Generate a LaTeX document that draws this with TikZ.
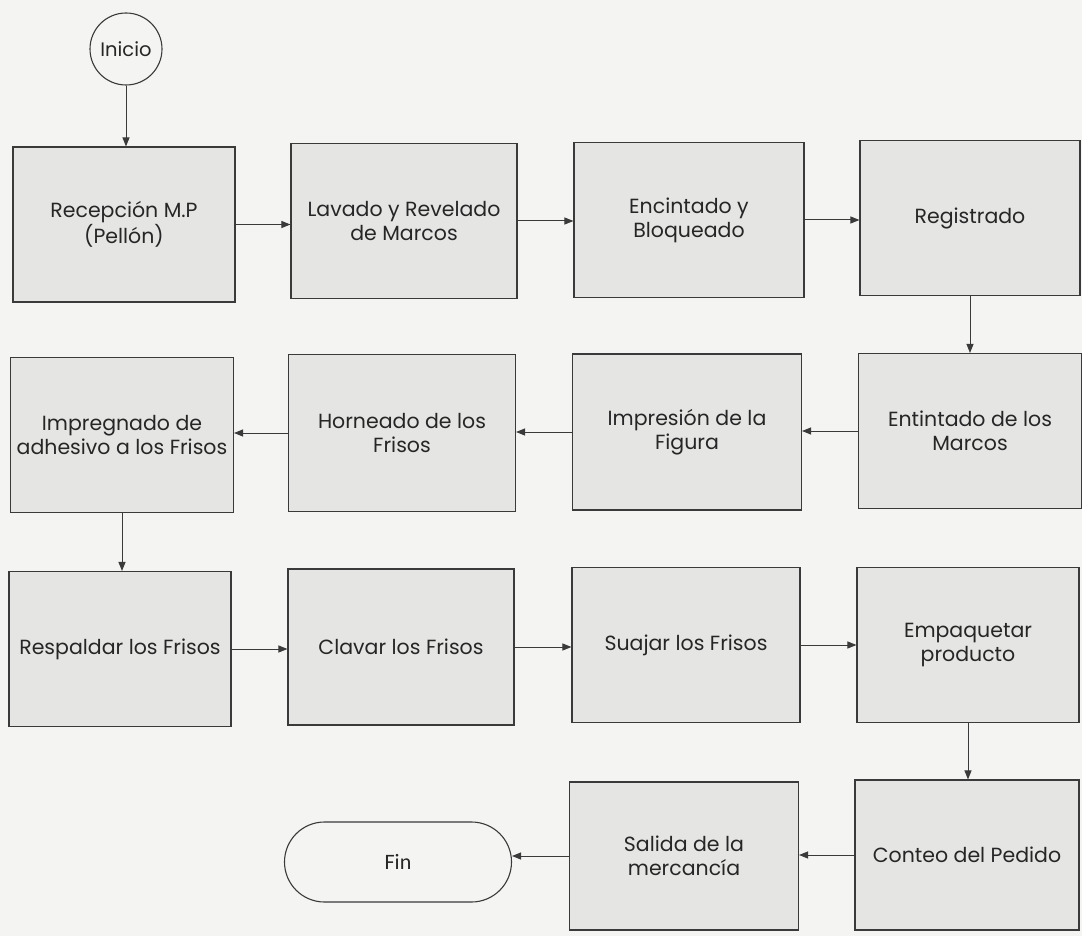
\documentclass[tikz,border=0pt]{standalone}
\usepackage{fontspec}
\setmainfont{Poppins}
\newfontfamily\finfont{Carlito}
\usetikzlibrary{arrows.meta,shapes.misc}
\definecolor{bgc}{HTML}{F4F4F2}
\definecolor{boxc}{HTML}{E5E5E4}
\definecolor{linec}{HTML}{3A3A3A}
\definecolor{txtc}{HTML}{262626}
\tikzset{
  procbox/.style={draw=linec, line width=1.1pt, fill=boxc, rectangle, align=center,
    text=txtc, font=\fontsize{20.5}{24}\selectfont, inner sep=0pt},
  arr/.style={draw=linec, line width=1pt, -{Triangle[length=9pt,width=7pt]}},
}
\begin{document}
\begin{tikzpicture}[x=1pt,y=-1pt]
\fill[bgc] (0,0) rectangle (1082,936);
\useasboundingbox (0,0) rectangle (1082,936);

\node[circle, draw=linec, line width=1.1pt, fill=bgc, minimum size=72pt, inner sep=0pt,
  text=txtc, font=\fontsize{19.5}{22}\selectfont] (ini) at (126,49) {Inicio};

\node[procbox, minimum width=222pt, minimum height=155pt] (b1) at (124,224.5) {Recepción M.P\\(Pellón)};
\node[procbox, minimum width=226pt, minimum height=155pt] (b2) at (404,221) {Lavado y Revelado\\de Marcos};
\node[procbox, minimum width=230pt, minimum height=155pt] (b3) at (689,220) {Encintado y\\Bloqueado};
\node[procbox, minimum width=220pt, minimum height=155pt] (b4) at (970,218) {Registrado};

\node[procbox, minimum width=223pt, minimum height=155pt] (b5) at (970,431) {Entintado de los\\Marcos};
\node[procbox, minimum width=229pt, minimum height=156pt] (b6) at (687,432) {Impresión de la\\Figura};
\node[procbox, minimum width=227pt, minimum height=157pt] (b7) at (402,433) {Horneado de los\\Frisos};
\node[procbox, minimum width=223pt, minimum height=155pt] (b8) at (122,435) {Impregnado de\\adhesivo a los Frisos};

\node[procbox, minimum width=222pt, minimum height=155pt] (b9) at (120,649) {Respaldar los Frisos};
\node[procbox, minimum width=226pt, minimum height=156pt] (b10) at (401,647) {Clavar los Frisos};
\node[procbox, minimum width=228pt, minimum height=155pt] (b11) at (686,645) {Suajar los Frisos};
\node[procbox, minimum width=222pt, minimum height=155pt] (b12) at (968,645) {Empaquetar\\producto};

\node[procbox, minimum width=224pt, minimum height=150pt] (b13) at (967,855) {Conteo del Pedido};
\node[procbox, minimum width=229pt, minimum height=148pt] (b14) at (684,856) {Salida de la\\mercancía};
\node[rounded rectangle, draw=linec, line width=1.1pt, fill=bgc, minimum width=227pt,
  minimum height=80pt, inner sep=0pt, text=txtc, font=\finfont\fontsize{22}{24}\selectfont] (fin) at (398,862) {Fin};

\draw[arr] (ini.south) -- (ini.south |- b1.north);
\draw[arr] (b1.east) -- (b1.east -| b2.west);
\draw[arr] (b2.east) -- (b2.east -| b3.west);
\draw[arr] (b3.east) -- (b3.east -| b4.west);
\draw[arr] (b4.south) -- (b4.south |- b5.north);
\draw[arr] (b5.west) -- (b5.west -| b6.east);
\draw[arr] (b6.west) -- (b6.west -| b7.east);
\draw[arr] (b7.west) -- (b7.west -| b8.east);
\draw[arr] (b8.south) -- (b8.south |- b9.north);
\draw[arr] (b9.east) -- (b9.east -| b10.west);
\draw[arr] (b10.east) -- (b10.east -| b11.west);
\draw[arr] (b11.east) -- (b11.east -| b12.west);
\draw[arr] (b12.south) -- (b12.south |- b13.north);
\draw[arr] (b13.west) -- (b13.west -| b14.east);
\draw[arr] (b14.west) -- (b14.west -| fin.east);
\end{tikzpicture}
\end{document}
